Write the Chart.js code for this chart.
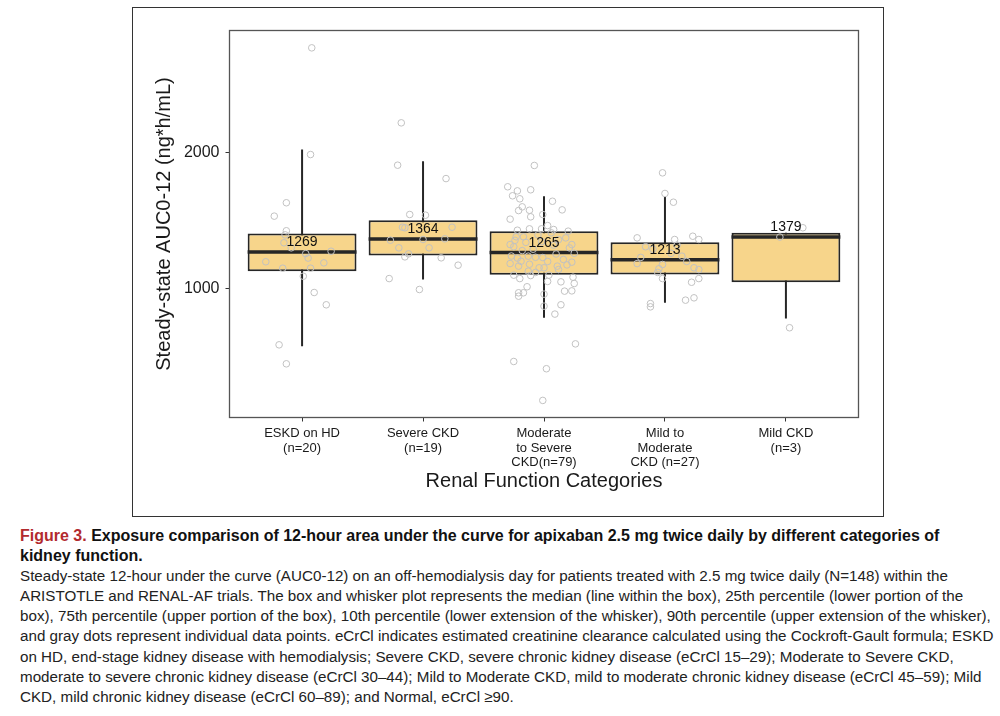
<!DOCTYPE html>
<html>
<head>
<meta charset="utf-8">
<script src="https://cdn.jsdelivr.net/npm/chart.js@4.4.1/dist/chart.umd.min.js"></script>
<style>
  body { margin: 0; background: #fff; width: 1000px; height: 716px; position: relative; overflow: hidden; }
  #frame { position: absolute; left: 132px; top: 7px; border: 1.5px solid #333; width: 750px; height: 508px; }
  #caption { position: absolute; left: 20px; top: 526px; font-family: "Liberation Sans", Arial, sans-serif;
             font-size: 15.2px; line-height: 20.1px; color: #222; white-space: nowrap; }
  #caption b { font-weight: bold; color: #111; font-size: 16px; }
  #caption .fig { color: #b22a2e; }
</style>
</head>
<body>
<div id="frame"><canvas id="boxChart" width="750" height="508"></canvas></div>
<div id="caption">
<b><span class="fig">Figure 3.</span> Exposure comparison of 12-hour area under the curve for apixaban 2.5 mg twice daily by different categories of<br>kidney function.</b><br>
Steady-state 12-hour under the curve (AUC0-12) on an off-hemodialysis day for patients treated with 2.5 mg twice daily (N=148) within the<br>
ARISTOTLE and RENAL-AF trials. The box and whisker plot represents the median (line within the box), 25th percentile (lower portion of the<br>
box), 75th percentile (upper portion of the box), 10th percentile (lower extension of the whisker), 90th percentile (upper extension of the whisker),<br>
and gray dots represent individual data points. eCrCl indicates estimated creatinine clearance calculated using the Cockroft-Gault formula; ESKD<br>
on HD, end-stage kidney disease with hemodialysis; Severe CKD, severe chronic kidney disease (eCrCl 15–29); Moderate to Severe CKD,<br>
moderate to severe chronic kidney disease (eCrCl 30–44); Mild to Moderate CKD, mild to moderate chronic kidney disease (eCrCl 45–59); Mild<br>
CKD, mild chronic kidney disease (eCrCl 60–89); and Normal, eCrCl ≥90.
</div>
<script>
// categorias y estadisticos de cada caja
const categories = [
    ['ESKD on HD', '(n=20)'],
    ['Severe CKD', '(n=19)'],
    ['Moderate', 'to Severe', 'CKD(n=79)'],
    ['Mild to', 'Moderate', 'CKD (n=27)'],
    ['Mild CKD', '(n=3)']
];
const medians = [1269, 1364, 1265, 1213, 1379];
const q1 = [1129, 1244, 1103, 1105, 1048];
const q3 = [1405, 1502, 1422, 1341, 1410];
const p10 = [580, 1068, 788, 898, 783];
const p90 = [2020, 1934, 1678, 1673, 1410];
const yTicks = [1000, 2000];

// puntos individuales: [desplazamiento horizontal (jitter), valor]
const ptsESKD = [
    [0.08, 2764], [0.07, 1983], [-0.13, 1630], [-0.23, 1532], [-0.13, 1425], [-0.15, 1337],
    [0.03, 1258], [0.24, 1275], [-0.30, 1198], [-0.16, 1151], [0.07, 1151], [0.01, 1092],
    [0.10, 973], [0.20, 883], [-0.19, 590], [-0.13, 451],
    [-0.14, 1395], [0.05, 1225], [-0.09, 1300], [0.18, 1190]
];
const ptsSevere = [
    [-0.18, 2215], [-0.21, 1905], [0.19, 1807], [-0.11, 1544], [0.02, 1539], [-0.17, 1451],
    [-0.15, 1447], [0.24, 1451], [-0.27, 1356], [0.00, 1361], [0.18, 1366], [-0.20, 1300],
    [-0.12, 1256], [-0.15, 1234], [0.15, 1227], [0.29, 1173], [-0.28, 1075], [-0.03, 995],
    [0.05, 1300]
];
const ptsModSevere = [
    [-0.08, 1903], [-0.30, 1747], [-0.22, 1717], [-0.11, 1725], [-0.26, 1681], [-0.20, 1659],
    [0.07, 1641], [-0.18, 1600], [-0.21, 1573], [-0.12, 1575], [0.15, 1578], [-0.11, 1527],
    [-0.28, 1510], [-0.01, 1544], [-0.22, 1429], [-0.12, 1439], [-0.02, 1439], [0.03, 1463],
    [0.08, 1434], [0.20, 1422], [-0.23, 1381], [-0.17, 1381], [0.18, 1373], [-0.28, 1324],
    [-0.25, 1308], [0.23, 1324], [-0.13, 1239], [-0.07, 1231], [-0.01, 1229], [-0.19, 1202],
    [0.23, 1195], [-0.28, 1185], [-0.21, 1166], [-0.04, 1154], [0.00, 1154], [0.11, 1166],
    [0.12, 1141], [-0.13, 1129], [-0.25, 1100], [-0.11, 1097], [-0.20, 1075], [0.03, 1054],
    [0.14, 1051], [0.25, 1039], [0.24, 1085], [-0.14, 1015], [-0.21, 971], [-0.17, 971],
    [0.17, 983], [0.23, 985], [-0.21, 946], [0.00, 961], [0.14, 883], [0.00, 873],
    [0.09, 815], [0.26, 597], [-0.25, 468], [0.02, 415], [-0.01, 183],
    [-0.24, 1355], [-0.15, 1340], [-0.05, 1395], [0.06, 1410], [0.12, 1360], [0.21, 1300],
    [-0.27, 1240], [-0.09, 1290], [0.03, 1200], [0.16, 1215], [-0.18, 1280], [0.08, 1320],
    [0.25, 1260], [-0.02, 1345], [0.19, 1175], [-0.12, 1180], [0.10, 1255], [-0.22, 1225],
    [0.04, 1100], [-0.07, 1120]
];
const ptsMildMod = [
    [-0.02, 1849], [0.00, 1698], [0.07, 1634], [-0.23, 1373], [0.08, 1361], [0.23, 1385],
    [0.28, 1361], [-0.16, 1308], [0.14, 1239], [-0.23, 1185], [-0.02, 1178], [-0.05, 1147],
    [0.24, 1154], [0.28, 1141], [-0.02, 1075], [0.28, 1075], [0.22, 1048], [0.17, 917],
    [0.24, 934], [-0.12, 892], [-0.12, 868],
    [-0.10, 1290], [0.05, 1260], [-0.20, 1230], [0.18, 1200], [0.10, 1320], [-0.06, 1120]
];
const ptsMild = [[0.14, 1447], [-0.05, 1379], [0.03, 715]];
const pointGroups = [ptsESKD, ptsSevere, ptsModSevere, ptsMildMod, ptsMild];

const BOX_FILL = '#f7d58b';
const DARK = '#262626';

document.addEventListener('DOMContentLoaded', function () {
    const ctx = document.getElementById('boxChart').getContext('2d');

    // linea de mediana: un tramo por caja, cortado con null
    const medianLine = [];
    medians.forEach((m, i) => {
        medianLine.push({ x: i - 0.45, y: m }, { x: i + 0.45, y: m }, { x: i + 0.5, y: null });
    });

    const points = [];
    pointGroups.forEach((g, i) => g.forEach(p => points.push({ x: i + p[0], y: p[1] })));

    // panel con borde y etiquetas de mediana
    const panelPlugin = {
        id: 'panel',
        afterDatasetsDraw(chart) {
            const { ctx, chartArea: a, scales } = chart;
            ctx.save();
            ctx.font = '14px "Liberation Sans", Arial, sans-serif';
            ctx.fillStyle = '#111';
            ctx.textAlign = 'center';
            ctx.textBaseline = 'middle';
            medians.forEach((m, i) => {
                ctx.fillText(String(m), scales.x.getPixelForValue(i), scales.y.getPixelForValue(m) - 9.5);
            });
            ctx.strokeStyle = '#555';
            ctx.lineWidth = 1.3;
            ctx.strokeRect(a.left, a.top, a.right - a.left, a.bottom - a.top);
            ctx.restore();
        }
    };

    new Chart(ctx, {
        data: {
            datasets: [
                {
                    type: 'scatter',
                    data: points,
                    pointRadius: 3.3,
                    pointBackgroundColor: 'rgba(0,0,0,0)',
                    pointBorderColor: '#c2c2c2',
                    pointBorderWidth: 1,
                    order: 0
                },
                {
                    type: 'scatter',
                    data: medianLine,
                    showLine: true,
                    spanGaps: false,
                    borderColor: DARK,
                    borderWidth: 3.5,
                    pointRadius: 0,
                    order: 1
                },
                {
                    type: 'bar',
                    data: categories.map((c, i) => ({ x: i, y: [q1[i], q3[i]] })),
                    backgroundColor: BOX_FILL,
                    borderColor: DARK,
                    borderWidth: 2,
                    borderSkipped: false,
                    barPercentage: 0.9,
                    categoryPercentage: 1,
                    grouped: false,
                    order: 2
                },
                {
                    type: 'bar',
                    data: categories.map((c, i) => ({ x: i, y: [p10[i], p90[i]] })),
                    backgroundColor: DARK,
                    maxBarThickness: 2,
                    grouped: false,
                    order: 3
                }
            ]
        },
        options: {
            responsive: false,
            animation: false,
            layout: { padding: { top: 22.5, right: 24.5, left: 0, bottom: 0 } },
            plugins: {
                legend: { display: false },
                tooltip: { enabled: false }
            },
            scales: {
                x: {
                    type: 'linear',
                    min: -0.6,
                    max: 4.6,
                    offset: false,
                    afterBuildTicks: (scale) => { scale.ticks = categories.map((c, i) => ({ value: i })); },
                    afterFit: (scale) => { scale.height = 98.5; },
                    grid: { drawOnChartArea: false, offset: false, tickLength: 4, color: '#333' },
                    border: { display: false },
                    ticks: {
                        autoSkip: false,
                        maxRotation: 0,
                        padding: 4,
                        color: '#1a1a1a',
                        font: { family: '"Liberation Sans Narrow", "Liberation Sans", Arial, sans-serif', size: 13, lineHeight: 1.15 },
                        callback: (v) => categories[v]
                    },
                    title: {
                        display: true,
                        text: 'Renal Function Categories',
                        color: '#1a1a1a',
                        font: { family: '"Liberation Sans", Arial, sans-serif', size: 20 },
                        padding: { top: 0, bottom: 22.5 }
                    }
                },
                y: {
                    type: 'linear',
                    min: 58,
                    max: 2891,
                    afterBuildTicks: (scale) => { scale.ticks = yTicks.map(v => ({ value: v })); },
                    afterFit: (scale) => { scale.width = 96.5; },
                    grid: { drawOnChartArea: false, tickLength: 4, color: '#333' },
                    border: { display: false },
                    ticks: {
                        padding: 6,
                        color: '#1a1a1a',
                        font: { family: '"Liberation Sans", Arial, sans-serif', size: 16 },
                        callback: (v) => String(v)
                    },
                    title: {
                        display: true,
                        text: 'Steady-state AUC0-12 (ng*h/mL)',
                        color: '#1a1a1a',
                        font: { family: '"Liberation Sans", Arial, sans-serif', size: 20 },
                        padding: { top: 19.5, bottom: 0 }
                    }
                }
            }
        },
        plugins: [panelPlugin]
    });
});
</script>
</body>
</html>
